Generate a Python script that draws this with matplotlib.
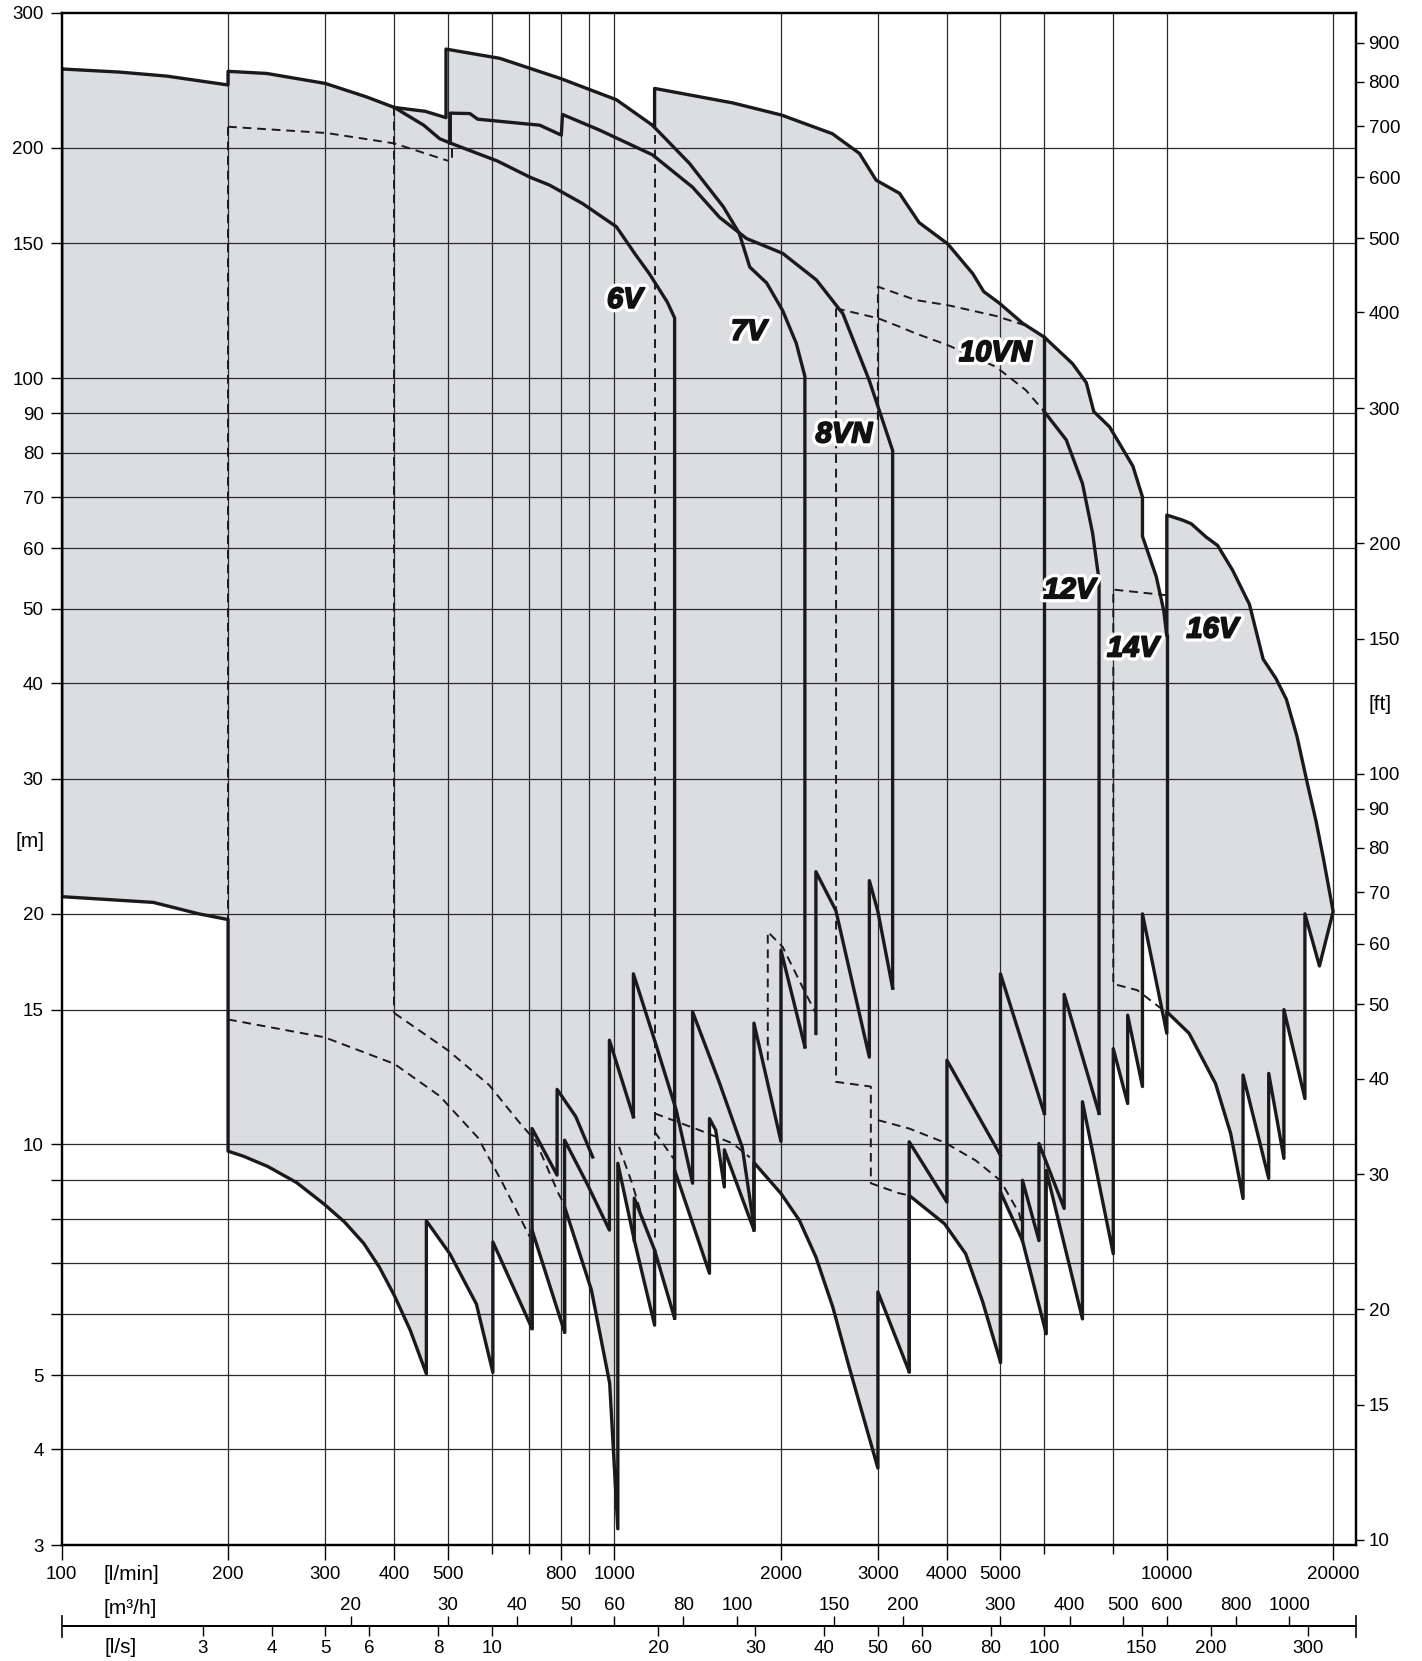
import matplotlib.pyplot as plt
import matplotlib.patheffects as pe
from matplotlib.ticker import NullLocator, NullFormatter

plt.rcParams['font.family'] = ['Liberation Sans', 'DejaVu Sans']

# all points: (flow [l/min], head [m])

# grey area, top edge left -> right
env_top = [(100, 253.4), (127.5, 251), (155, 248), (200, 241.5), (200, 251.6), (235, 250),
           (300, 242.6), (356, 233), (400, 225.7), (455, 223.1), (496, 218.9), (496, 269),
           (621, 261.6), (800, 246.2), (1009, 231), (1172, 214), (1183, 213), (1183, 239),
           (1639, 228.8), (2008, 220.6), (2481, 208.6), (2778, 196.6), (2978, 181.4),
           (3282, 174.4), (3562, 159.7), (4013, 149.8), (4454, 137), (4662, 129.8),
           (4980, 125.3), (5484, 118), (6000, 113.2), (6752, 104.5), (7150, 98.7),
           (7376, 90.5), (7880, 86.4), (8682, 76.8), (9035, 70), (9035, 62.2), (9570, 55.1),
           (9870, 49.8), (10000, 46.1), (10000, 66.3), (10680, 65.3), (11070, 64.6),
           (11770, 62.1), (12360, 60.5), (13150, 56.2), (14110, 50.7), (14940, 43),
           (15750, 40.6), (16460, 38.1), (17200, 34.1), (17980, 29.5), (18630, 26.4),
           (19210, 23.6), (20000, 20.14)]
# grey area, bottom edge right -> left
env_bot = [(20000, 20.14), (18890, 17.1), (17780, 20.0), (17780, 11.48), (16290, 15.0),
           (16290, 9.59), (15290, 12.38), (15290, 9.03), (13740, 12.32), (13740, 8.5),
           (13050, 10.33), (12250, 12.01), (10970, 13.97), (10000, 14.9), (10000, 13.97),
           (9035, 20.0), (9035, 11.9), (8495, 14.75), (8495, 11.31), (8000, 13.34),
           (8000, 7.2), (7036, 11.37), (7036, 5.92), (6050, 9.25), (6050, 5.66), (5480, 7.49),
           (5000, 8.67), (5000, 5.2), (4640, 6.24), (4325, 7.2), (3960, 7.88), (3418, 8.58),
           (3418, 5.05), (3000, 6.42), (3000, 3.78), (2660, 5.13), (2485, 6.14), (2317, 7.13),
           (2163, 7.96), (2003, 8.63), (1790, 9.47), (1790, 7.73), (1582, 9.84), (1582, 8.8),
           (1526, 10.44), (1487, 10.81), (1487, 6.79), (1286, 9.26), (1286, 5.93),
           (1183, 7.28), (1183, 5.81), (1087, 7.5), (1015, 9.45), (1015, 3.15), (981, 4.88),
           (909, 6.46), (813, 8.29), (813, 5.69), (710, 7.73), (710, 5.75), (603, 7.46),
           (603, 5.04), (563, 6.19), (504, 7.2), (457, 7.95), (457, 5.02), (427, 5.73),
           (400, 6.35), (376, 6.91), (352, 7.43), (325, 7.92), (299, 8.35), (266, 8.92),
           (236, 9.36), (213.5, 9.65), (200, 9.8), (200, 19.66), (177, 20.0), (146.5, 20.7),
           (100, 21.06)]

# inner solid curves
top_6v = [(400, 225.7), (452, 214), (483, 205.5), (505, 202.8), (615, 192.1), (703, 183.1),
          (764, 178.7), (876, 169.1), (1009, 157.7), (1092, 145.1), (1157, 137),
          (1247, 125.8), (1286, 119.9), (1286, 5.93)]
top_8vn = [(505, 202.8), (505, 221.9), (548, 221.6), (566, 217.9), (733, 214), (802, 207.7),
           (806, 221), (940, 210.9), (1172, 195.8), (1386, 177.6), (1551, 162.2),
           (1736, 152.2), (2017, 145.6), (2322, 134.4), (2593, 121.4), (2895, 99.3),
           (3190, 80.5), (3190, 16.0)]
top_7v = [(1172, 214), (1368, 190.8), (1575, 167.5), (1683, 154.7), (1759, 139.7),
          (1887, 133.2), (2017, 122.6), (2135, 111.1), (2213, 100.6), (2213, 13.41)]
edge_10vn = [(6000, 113.2), (6000, 10.98)]
top_12v = [(6000, 90.5), (6577, 83.1), (7036, 72.9), (7340, 62.8), (7540, 54.5), (7540, 10.98)]
edge_16v = [(10000, 46.1), (10000, 14.9)]

teeth_a = [(710, 5.75), (710, 10.49), (788, 9.12), (788, 11.8), (852, 10.87), (914, 9.63)]
teeth_b = [(813, 5.69), (813, 10.13), (892, 8.9), (980, 7.73), (980, 13.68), (1083, 10.87)]
teeth_c = [(1083, 10.87), (1083, 16.7), (1183, 13.68), (1295, 11.08), (1386, 8.9),
           (1386, 14.9), (1548, 12.07), (1705, 9.91), (1790, 7.81)]
teeth_d = [(1790, 7.73), (1790, 14.4), (2003, 10.09), (2003, 17.93), (2213, 13.41)]
teeth_e = [(2317, 13.96), (2317, 22.7), (2518, 20.2), (2895, 13.0), (2895, 22.1),
           (3000, 20.14), (3190, 16.0)]
teeth_f = [(1087, 7.5), (1087, 8.51), (1183, 7.28)]
teeth_g = [(3418, 5.05), (3418, 10.08), (4000, 8.41), (4000, 12.88), (5000, 9.68)]
teeth_h = [(5000, 5.2), (5000, 16.7), (5480, 13.53), (6000, 10.98)]
teeth_i = [(5480, 7.49), (5480, 8.98), (5870, 7.49), (5870, 10.03), (6520, 8.25),
           (6520, 15.7), (7540, 10.98)]

# dashed limits
dash_a = [(200, 213), (200, 14.56)]
dash_b = [(200, 213), (302, 209), (400, 202.6), (500, 192.3)]
dash_b2 = [(508, 199), (508, 193)]
dash_c = [(400, 225.7), (400, 14.84)]
dash_d = [(200, 14.56), (299, 13.8), (400, 12.74), (483, 11.57), (567, 10.2), (628, 8.9),
          (703, 7.58)]
dash_e = [(400, 14.84), (500, 13.27), (594, 11.95), (675, 10.66), (721, 10.1), (793, 8.62),
          (809, 8.39)]
dash_f = [(1183, 207.7), (1183, 7.5)]
dash_g = [(1183, 10.98), (1426, 10.44), (1639, 10.03), (1759, 9.62)]
dash_h = [(1183, 10.39), (1286, 9.54)]
dash_i = [(1020, 9.93), (1077, 8.9), (1126, 8.0)]
dash_j = [(1896, 12.88), (1896, 18.95), (2018, 18.1), (2190, 16.06), (2317, 14.82)]
dash_k = [(2520, 123.4), (2520, 12.07), (2913, 11.9), (2913, 8.9), (3270, 8.64), (3418, 8.58)]
dash_k_top = [(2520, 123.4), (3000, 119.8), (3282, 116.8), (3516, 114.4), (4013, 110.5),
              (4908, 103.5), (5559, 96.5), (6000, 90.5)]
dash_l = [(3000, 88.3), (3000, 131.7), (3516, 126.5), (4013, 124.6), (4908, 120.6),
          (5515, 117.4)]
dash_m = [(3000, 10.76), (3418, 10.49), (3960, 10.06), (4510, 9.53), (5000, 8.97),
          (5405, 8.13), (5480, 7.75)]
dash_n = [(10000, 52.1), (8000, 53), (8000, 16.2), (8840, 15.9), (9820, 15.0)]

series_labels = [('6V', 1045, 126.6), ('7V', 1751, 115), ('8VN', 2604, 84.5),
                 ('10VN', 4895, 107.9), ('12V', 6664, 52.9), ('14V', 8682, 44.4),
                 ('16V', 12090, 47)]

# axes ticks / grid
lmin_ticks = [100, 200, 300, 400, 500, 800, 1000, 2000, 3000, 4000, 5000, 10000, 20000]
lmin_minor = [600, 700, 900, 6000, 8000]
grid_q = [200, 300, 400, 500, 600, 700, 800, 900, 1000, 2000, 3000, 4000, 5000, 6000, 8000,
          10000, 20000]
m_ticks = [3, 4, 5, 10, 15, 20, 30, 40, 50, 60, 70, 80, 90, 100, 150, 200, 300]
m_minor = [6, 7, 8, 9]
grid_h = [4, 5, 6, 7, 8, 9, 10, 15, 20, 30, 40, 50, 60, 70, 80, 90, 100, 150, 200]
ft_ticks = [10, 15, 20, 30, 40, 50, 60, 70, 80, 90, 100, 150, 200, 300, 400, 500, 600, 700,
            800, 900]
m3h_ticks = [20, 30, 40, 50, 60, 80, 100, 150, 200, 300, 400, 500, 600, 800, 1000]
ls_ticks = [3, 4, 5, 6, 8, 10, 20, 30, 40, 50, 60, 80, 100, 150, 200, 300]

GRAY = '#dcdde0'
GRID = '#2a2a2a'
LW = 2.4
FS = 13.5

fig = plt.figure(figsize=(14.22, 16.61), dpi=100)
ax = fig.add_axes([0.0434, 0.0698, 0.9102, 0.9225])
ax.set_xscale('log')
ax.set_yscale('log')
ax.set_xlim(100, 22000)
ax.set_ylim(3, 300)

for q in grid_q:
    ax.axvline(q, color=GRID, lw=0.9, zorder=1)
for h in grid_h:
    ax.axhline(h, color=GRID, lw=0.9, zorder=1)

# grey working area
outline = env_top + env_bot
qs, hs = zip(*outline)
ax.fill(qs, hs, facecolor=GRAY, edgecolor='none', zorder=0.5)
qs, hs = zip(*(outline + [env_top[0]]))
ax.plot(qs, hs, color='#1a1a1a', lw=LW, zorder=3)

solid = [top_6v, top_8vn, top_7v, edge_10vn, top_12v, edge_16v, teeth_a, teeth_b, teeth_c,
         teeth_d, teeth_e, teeth_f, teeth_g, teeth_h, teeth_i]
for pts in solid:
    q, h = zip(*pts)
    ax.plot(q, h, color='#1a1a1a', lw=LW, zorder=3)

dashed = [dash_a, dash_b, dash_b2, dash_c, dash_d, dash_e, dash_f, dash_g, dash_h, dash_i,
          dash_j, dash_k, dash_k_top, dash_l, dash_m, dash_n]
for pts in dashed:
    q, h = zip(*pts)
    ax.plot(q, h, color='#1a1a1a', lw=1.4, dashes=(4.5, 3), zorder=3)

halo = [pe.Stroke(linewidth=6, foreground='white'),
        pe.Stroke(linewidth=1.3, foreground='#111111'), pe.Normal()]
for txt, q, h in series_labels:
    ax.text(q, h, txt, fontsize=21, fontweight='bold', fontstyle='italic', ha='center',
            va='center', color='#111111', zorder=6, path_effects=halo)

# left axis [m]
ax.set_yticks(m_ticks, [str(t) for t in m_ticks])
ax.set_yticks(m_minor, minor=True)
ax.yaxis.set_minor_formatter(NullFormatter())
ax.tick_params(axis='y', which='both', direction='out', length=8, width=1,
               labelsize=FS, pad=5)

# bottom axis [l/min]
ax.set_xticks(lmin_ticks, [str(t) for t in lmin_ticks])
ax.set_xticks(lmin_minor, minor=True)
ax.xaxis.set_minor_formatter(NullFormatter())
ax.tick_params(axis='x', which='major', direction='out', length=11, width=1,
               labelsize=FS, pad=4)
ax.tick_params(axis='x', which='minor', direction='out', length=6.5, width=1)
for s in ax.spines.values():
    s.set_linewidth(1.6)

# right axis [ft]
ax2 = ax.twinx()
ax2.set_yscale('log')
ax2.set_ylim(3 / 0.3048, 300 / 0.3048)
ax2.set_yticks(ft_ticks, [str(t) for t in ft_ticks])
ax2.yaxis.set_minor_locator(NullLocator())
ax2.tick_params(axis='y', direction='out', length=6, width=1, labelsize=FS, pad=3)
for s in ax2.spines.values():
    s.set_linewidth(1.6)

# lower flow scales
loc = -0.0529
sec_m3 = ax.secondary_xaxis(loc, functions=(lambda q: q * 0.06, lambda m: m / 0.06))
sec_m3.set_alignment('top')
sec_m3.set_ticks(m3h_ticks, [str(t) for t in m3h_ticks])
sec_m3.xaxis.set_minor_locator(NullLocator())
sec_m3.tick_params(direction='out', length=7, width=1, labelsize=FS, pad=2)

sec_ls = ax.secondary_xaxis(loc, functions=(lambda q: q / 60, lambda s: s * 60))
sec_ls.set_ticks(ls_ticks, [str(t) for t in ls_ticks])
sec_ls.xaxis.set_minor_locator(NullLocator())
sec_ls.tick_params(direction='out', length=7, width=1, labelsize=FS, pad=3)
for sec in (sec_m3, sec_ls):
    for s in sec.spines.values():
        s.set_linewidth(1.3)

tr = ax.get_xaxis_transform()
for q in (100, 22000):
    ax.plot([q, q], [loc - 0.0068, loc + 0.0068], transform=tr, color='#1a1a1a', lw=1.3,
            clip_on=False)

fig.text(0.0731, 0.0518, '[l/min]', fontsize=15, ha='left', va='center')
fig.text(0.0731, 0.0319, '[m³/h]', fontsize=15, ha='left', va='center')
fig.text(0.0738, 0.0084, '[l/s]', fontsize=15, ha='left', va='center')
fig.text(0.0211, 0.4931, '[m]', fontsize=15, ha='center', va='center')
fig.text(0.9705, 0.5756, '[ft]', fontsize=15, ha='center', va='center')

fig.savefig('out.png', dpi=100)
